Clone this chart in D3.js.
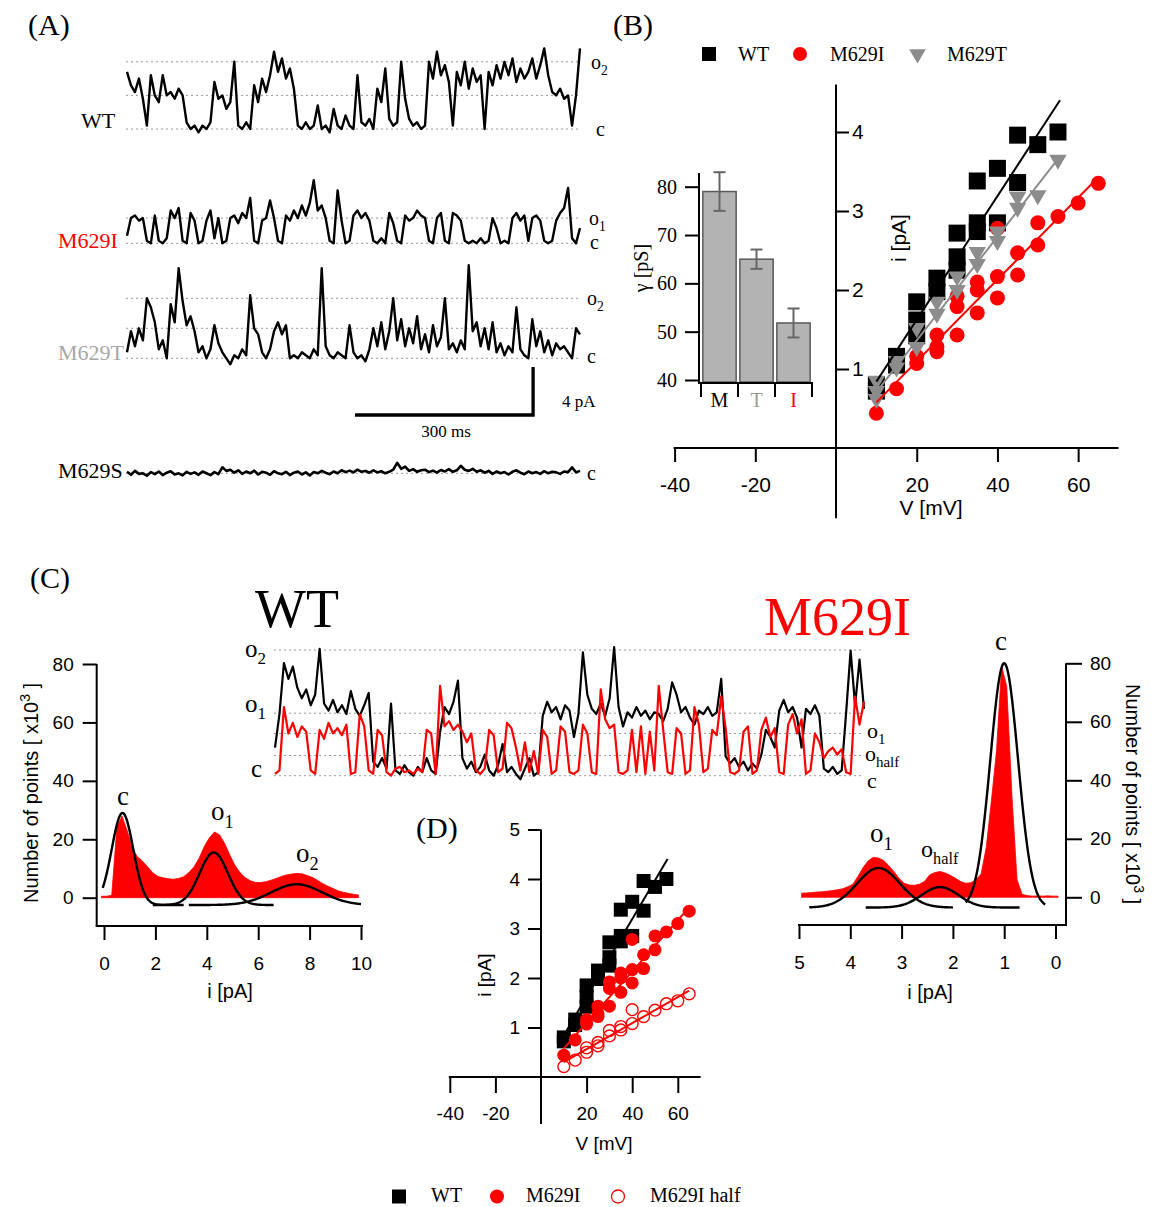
<!DOCTYPE html>
<html><head><meta charset="utf-8">
<script src="https://cdn.jsdelivr.net/npm/d3@7"></script>
<style>body{margin:0;background:#fff}svg{display:block}</style>
</head><body>
<svg id="fig" width="1153" height="1207"></svg>
<script>
// ===================== DATA =====================
// Panel A: single-channel traces, in units of the unitary open level
const A_NAMES = ["WT", "M629I", "M629T", "M629S"];
const A_UNIT_PA = [2.8, 2.1, 2.5, 2.5];      // pA per open level
const A_DURATION_MS = 763;
const A_SCALEBAR_MS = 300, A_SCALEBAR_PA = 4;
const A_DOTTED = [[0, 1, 2], [0, 1], [0, 1, 2], [0]];
const traceWT = [1.7,1.3,1.1,1.5,0.9,0.1,1.6,1.0,0.8,1.6,1.0,1.1,0.9,1.2,1.0,0.2,0.0,0.1,-0.1,0.1,0.0,0.2,1.4,0.9,1.0,0.6,0.8,2.0,0.1,0.0,0.2,0.0,1.3,0.8,1.5,1.1,1.6,2.3,1.7,2.1,1.5,1.8,1.2,0.1,0.0,0.2,0.0,0.1,0.7,0.0,0.1,-0.1,0.6,0.1,0.0,0.4,0.1,0.0,1.6,0.2,0.1,0.3,0.0,1.2,0.8,1.8,0.3,0.1,0.2,2.0,0.9,0.3,0.1,0.2,0.0,0.1,2.0,1.5,2.3,1.6,1.9,1.4,0.1,1.7,1.3,2.0,1.2,1.8,1.4,1.6,0.0,1.7,1.3,1.9,1.5,2.0,1.6,2.1,1.4,1.8,1.5,1.7,2.1,1.5,1.9,2.4,1.6,1.1,1.0,1.2,0.9,1.0,0.1,1.0,2.4];
const traceM629I = [0.3,1.0,1.1,0.9,1.0,0.1,0.0,1.1,0.1,0.0,0.2,1.3,1.0,1.4,0.1,0.0,1.2,0.9,0.0,0.1,0.9,1.3,0.2,1.0,0.0,0.1,1.0,1.1,0.8,1.2,1.0,1.8,0.1,0.0,0.9,1.0,1.7,1.0,0.1,0.0,1.1,0.9,1.3,1.0,1.5,1.1,1.6,2.5,1.3,1.5,1.0,0.1,0.0,2.1,0.9,0.0,0.1,1.1,1.3,1.0,1.2,0.9,0.1,0.0,0.2,0.0,1.2,0.8,0.1,0.0,1.1,0.9,1.0,1.3,1.1,1.0,0.1,0.0,1.0,1.2,0.1,0.0,1.2,1.1,0.9,0.1,0.0,0.1,0.0,0.2,0.0,0.1,1.0,0.6,0.0,0.1,0.0,1.0,1.2,0.9,1.1,0.1,1.0,1.1,0.9,0.1,0.0,0.1,0.9,1.2,1.4,2.2,0.2,0.0,0.6];
const traceM629T = [0.2,0.9,0.4,1.0,0.6,2.0,1.7,1.2,0.3,0.6,0.0,1.8,1.2,3.0,1.9,1.1,1.4,0.9,0.2,0.4,0.0,0.3,1.1,0.5,0.2,0.0,-0.2,0.1,0.0,0.3,0.1,2.1,1.0,0.8,0.2,0.0,0.3,0.9,1.2,0.8,1.1,0.0,0.1,0.0,0.2,0.1,0.0,0.3,0.1,3.0,0.4,0.1,0.0,0.2,0.1,0.0,1.1,0.2,0.0,0.1,-0.1,0.3,1.0,0.4,1.2,0.3,0.9,2.0,0.6,1.3,0.4,1.0,0.5,1.4,0.3,0.8,0.2,1.1,0.4,0.7,2.0,0.3,0.5,0.2,0.6,0.3,3.1,0.9,1.2,0.4,1.0,0.3,1.2,0.2,0.5,0.1,0.4,0.2,1.7,0.3,0.1,0.0,1.3,0.4,0.9,0.2,0.6,0.1,0.5,0.3,0.4,0.2,0.0,1.0,0.8];
const traceM629S = [0.05,-0.05,0.08,-0.02,0.0,-0.08,0.04,-0.03,0.06,-0.06,0.02,0.07,-0.04,0.0,-0.07,0.05,-0.02,0.03,-0.05,0.06,0.0,-0.06,0.04,-0.03,0.2,0.08,0.12,0.02,0.1,-0.02,0.06,0.0,0.09,-0.04,0.05,0.02,-0.05,0.07,0.0,-0.03,0.05,-0.06,0.02,0.06,-0.04,0.03,-0.07,0.04,0.0,0.08,0.02,-0.03,0.06,0.0,0.1,0.04,0.09,0.03,0.12,0.05,0.08,0.02,0.1,0.03,0.07,0.0,0.05,0.12,0.35,0.15,0.22,0.08,0.14,0.05,0.1,0.12,0.04,0.09,0.02,0.11,0.06,0.14,0.05,0.1,0.25,0.12,0.08,0.15,0.05,0.1,0.02,0.08,-0.02,0.06,0.0,0.04,-0.04,0.05,0.1,0.02,-0.03,0.06,0.0,0.04,-0.02,0.07,0.0,0.05,0.03,-0.02,0.06,0.04,0.2,0.03,0.08];

// Panel B: conductance bars
const barCats = ["M", "T", "I"];
const barMeans = [79.0, 65.0, 51.8];
const barErr = [4.0, 2.0, 3.0];
const barYTicks = [40, 50, 60, 70, 80];

// Panel B / D: IV data
const ivWT_V = [10,10,15,15,20,20,20,25,25,30,30,30,35,35,35,40,40,45,45,50,55];
const ivWT_I = [0.80,0.72,1.16,1.05,1.85,1.62,1.42,2.15,1.98,2.72,2.42,2.25,3.38,2.85,2.74,3.54,2.85,3.96,3.36,3.84,4.0];
const ivT_V = [10,10,10,15,15,20,20,25,25,30,30,35,35,40,40,45,45,50,55];
const ivT_I = [0.85,0.72,0.62,1.10,1.02,1.52,1.28,1.85,1.70,2.17,2.00,2.48,2.33,2.74,2.62,3.18,3.04,3.20,3.65];
const ivI_V = [10,15,20,20,25,25,25,30,30,30,35,35,35,40,40,40,45,45,50,50,55,60,65];
const ivI_I = [0.44,0.75,1.07,1.16,1.43,1.28,1.22,1.92,1.79,1.43,2.10,2.00,1.71,2.78,2.17,1.90,2.47,2.19,2.85,2.57,2.93,3.10,3.35];
const ivHalf_V = [10,15,20,20,25,25,30,30,35,35,40,40,45,50,55,60,65];
const ivHalf_I = [0.21,0.34,0.59,0.50,0.70,0.63,0.94,0.83,1.02,0.95,1.36,1.08,1.22,1.35,1.48,1.54,1.68];
// linear fits: [slope pA/mV, intercept pA, Vmin, Vmax]
const fitWT = [0.0783, 0.057, 10, 55.5];
const fitT = [0.0656, 0.05, 10, 55.5];
const fitI = [0.0518, 0.06, 10, 65];
const fitHalf = [0.0262, 0.04, 10, 65];
const ivXTicks = [-40, -20, 20, 40, 60];

// Panel C: overlay traces (pA above closed level)
const cLevelsWT = [0, 3.55, 7.14];
const cLevelsI = [1.15, 2.4];
const cTraceWT = [1.6,3.5,6.4,5.5,6.2,5.0,4.4,4.9,4.0,4.6,7.2,4.1,3.7,4.3,3.6,4.0,3.5,4.8,3.8,3.4,4.0,4.7,0.8,0.5,1.0,0.4,4.1,0.3,0.1,0.6,0.2,0.0,0.5,0.2,1.0,0.3,0.1,2.5,3.9,3.5,4.2,5.4,1.0,0.4,0.8,0.2,0.5,1.2,0.3,0.0,0.6,1.8,0.2,0.5,0.1,-0.2,0.4,1.0,0.0,0.2,3.4,4.2,3.6,3.9,3.2,4.0,3.7,2.2,3.5,7.0,4.6,3.8,3.5,4.1,3.4,4.4,7.3,3.9,2.8,3.6,3.3,3.9,3.4,3.7,3.2,3.6,3.5,3.1,3.8,5.3,4.6,3.6,3.9,3.3,2.9,3.7,3.5,3.9,3.4,3.6,5.5,1.1,0.7,1.0,0.5,0.8,0.3,0.7,0.4,1.2,2.6,2.2,1.6,3.7,4.3,3.6,3.9,3.3,1.6,3.8,3.5,4.0,3.4,0.4,0.2,0.5,0.1,0.3,3.6,7.1,4.0,6.6,3.8];
const cTraceI = [0.1,0.3,3.9,2.4,3.0,2.2,2.8,2.5,0.3,0.1,2.6,2.1,3.0,2.4,2.7,2.3,2.9,0.1,0.2,3.5,2.8,0.3,0.1,2.6,2.3,0.2,0.0,0.4,0.5,0.2,0.3,0.1,0.4,0.2,2.6,2.4,0.1,5.1,2.8,3.1,2.6,2.9,2.5,1.9,2.4,0.3,0.1,0.4,2.6,2.3,0.2,0.4,3.0,2.7,1.6,0.3,1.9,0.2,1.4,0.1,2.6,2.2,0.1,0.3,2.8,2.5,0.2,0.1,0.3,2.9,2.4,0.2,0.1,4.9,3.2,2.7,2.9,0.2,0.1,0.3,2.6,0.2,2.8,0.1,2.5,0.3,5.1,2.6,0.2,0.1,2.7,2.4,0.1,0.3,3.9,2.9,0.2,0.4,2.6,2.3,4.5,2.7,0.2,0.1,0.3,2.5,2.8,0.1,0.3,2.6,3.3,2.2,2.7,0.2,0.1,2.9,3.5,2.4,3.2,0.1,0.3,2.4,1.9,1.0,1.4,1.6,1.2,1.5,0.2,0.1,4.5,2.9,4.2];

// Panel C: amplitude histograms (x10^3 points)
const histL_first = -0.1, histL_bin = 0.2;
const histL_counts = [0.5,0.5,0.8,24,28,23,17,14,12.5,10.5,8.5,7.3,6.8,6.5,6.3,6.6,7.2,8.6,10.5,13.5,17.5,20.5,22.5,21.5,18.5,14.5,11.0,8.5,6.8,5.8,5.2,5.2,5.5,6.0,6.6,7.3,7.8,8.1,8.3,8.2,7.6,7.0,6.0,4.9,4.0,3.2,2.4,1.9,1.5,1.2,0.9];
const histR_first = -0.05, histR_bin = 0.1;
const histR_counts = [0.4,0.4,0.5,0.4,0.5,0.4,0.6,1.0,6,35,72,79,50,33,17,8,6,5,4.8,5.4,6.5,7.5,8.3,8.8,8.5,7.7,5.5,4.5,4.1,4.2,4.8,6.5,8.8,10.8,12.6,13.4,13.7,12.5,10.2,7.2,4.5,3.6,2.9,2.6,2.3,2.1,1.9,1.8,1.6,1.5,1.4];
// Gaussian fits: centre, sigma, amplitude, from, to
const gaussL = [[0.72, 0.42, 31.5, -0.05, 3.1], [4.27, 0.55, 18, 1.9, 6.6], [7.5, 1.0, 7.1, 3.3, 10.0]];
const gaussL_offset = -2.5;
const gaussR = [[1.0, 0.27, 83.5, 0.2, 1.75], [2.25, 0.36, 7.0, 0.7, 3.7], [3.45, 0.42, 13.5, 2.0, 4.8]];
const gaussR_offset = -3.5;
const histYTicks = [0, 20, 40, 60, 80];
const histLXTicks = [0, 2, 4, 6, 8, 10];
const histRXTicks = [5, 4, 3, 2, 1, 0];

// ===================== DRAWING =====================
const SERIF = "'Liberation Serif','Times New Roman',serif";
const SANS = "'Liberation Sans',Arial,sans-serif";
const RED = "#ff0000";
const svg = d3.select("#fig");
const plainFmt = d => String(d);

function txt(x, y, s, size, o = {}) {
  return svg.append("text").attr("x", x).attr("y", y).text(s)
    .attr("font-family", o.font || SERIF).attr("font-size", size)
    .attr("fill", o.fill || "#000").attr("text-anchor", o.anchor || "start");
}
function subLabel(x, y, base, sub, size, o = {}) {
  const t = svg.append("text").attr("x", x).attr("y", y)
    .attr("font-family", SERIF).attr("font-size", size).attr("fill", o.fill || "#000")
    .attr("text-anchor", o.anchor || "start");
  t.append("tspan").text(base);
  t.append("tspan").attr("dy", size * 0.28).attr("font-size", size * 0.68).text(sub);
  return t;
}
function hline(x1, x2, y, w = 2, c = "#000") {
  svg.append("line").attr("x1", x1).attr("x2", x2).attr("y1", y).attr("y2", y).attr("stroke", c).attr("stroke-width", w);
}
function vline(x, y1, y2, w = 2, c = "#000") {
  svg.append("line").attr("x1", x).attr("x2", x).attr("y1", y1).attr("y2", y2).attr("stroke", c).attr("stroke-width", w);
}
function dotted(x1, x2, y) {
  svg.append("line").attr("x1", x1).attr("x2", x2).attr("y1", y).attr("y2", y)
    .attr("stroke", "#9a9a9a").attr("stroke-width", 1).attr("stroke-dasharray", "2,3");
}
function styleAxis(g, size, font) {
  g.select(".domain").remove();
  g.attr("font-family", font).attr("font-size", size);
  g.selectAll(".tick line").attr("stroke", "#000").attr("stroke-width", 2);
  g.selectAll(".tick text").attr("fill", "#000");
}

// panel letters
txt(28, 35, "(A)", 30);
txt(613, 35, "(B)", 30);
txt(30, 588, "(C)", 30);
txt(416, 838, "(D)", 30);

// ---------- Panel A ----------
const aX = d3.scaleLinear().domain([0, A_DURATION_MS]).range([127, 580]);
const aBase = [129, 243.3, 358.3, 473.3];
const aPxPerPA = 12;
const aTraces = [traceWT, traceM629I, traceM629T, traceM629S];
aTraces.forEach((tr, k) => {
  const y = d3.scaleLinear().domain([0, 1]).range([aBase[k], aBase[k] - A_UNIT_PA[k] * aPxPerPA]);
  A_DOTTED[k].forEach(l => dotted(126, 580, y(l)));
  const n = tr.length;
  const line = d3.line().x((d, i) => aX(i * A_DURATION_MS / (n - 1))).y(d => y(d));
  svg.append("path").datum(tr).attr("d", line).attr("fill", "none")
    .attr("stroke", "#000").attr("stroke-width", k === 3 ? 2.6 : 2.4).attr("stroke-linejoin", "round");
});
const aNameColors = ["#000", RED, "#a8a8a8", "#000"];
const aNameX = [81, 58, 58, 58];
const aNameY = [128, 248, 360, 478];
A_NAMES.forEach((nm, k) => txt(aNameX[k], aNameY[k], nm, 22, { fill: aNameColors[k] }));
subLabel(591, 69, "o", "2", 20);
txt(596, 136, "c", 20);
subLabel(589, 225, "o", "1", 20);
txt(590, 249, "c", 20);
subLabel(587, 305, "o", "2", 20);
txt(587, 363, "c", 20);
txt(587, 480, "c", 20);
// scale bar
{
  const t1 = 684, t0 = t1 - A_SCALEBAR_MS;
  const yb = 415;
  svg.append("path")
    .attr("d", `M${aX(t0)},${yb}H${aX(t1)}V${yb - A_SCALEBAR_PA * aPxPerPA}`)
    .attr("fill", "none").attr("stroke", "#000").attr("stroke-width", 3.3).attr("stroke-linejoin", "miter");
  txt(562, 407, A_SCALEBAR_PA + " pA", 17);
  txt((aX(t0) + aX(t1)) / 2 + 2, 437, A_SCALEBAR_MS + " ms", 17, { anchor: "middle" });
}

// ---------- Panel B legend ----------
svg.append("rect").attr("x", 702).attr("y", 47).attr("width", 14).attr("height", 14).attr("fill", "#000");
txt(738, 61, "WT", 20);
svg.append("circle").attr("cx", 800).attr("cy", 54).attr("r", 7).attr("fill", RED);
txt(830, 61, "M629I", 20);
svg.append("path").attr("d", d3.symbol(d3.symbolTriangle, 120)()).attr("transform", "translate(917.5,54) rotate(180)").attr("fill", "#8c8c8c");
txt(947, 61, "M629T", 20);

// ---------- Panel B bar chart ----------
{
  const yb = d3.scaleLinear().domain([40, 80]).range([380, 186.7]);
  const xb = d3.scaleBand().domain(barCats).range([701, 812]).paddingInner(0.1).paddingOuter(0.05);
  svg.selectAll("rect.bar").data(barCats).enter().append("rect").attr("class", "bar")
    .attr("x", d => xb(d)).attr("width", xb.bandwidth())
    .attr("y", (d, i) => yb(barMeans[i])).attr("height", (d, i) => yb(40) + 2 - yb(barMeans[i]))
    .attr("fill", "#b3b3b3").attr("stroke", "#5a5a5a").attr("stroke-width", 1.5);
  barCats.forEach((c, i) => {
    const cx = xb(c) + xb.bandwidth() / 2;
    vline(cx, yb(barMeans[i] + barErr[i]), yb(barMeans[i] - barErr[i]), 2, "#666");
    hline(cx - 6, cx + 6, yb(barMeans[i] + barErr[i]), 2, "#666");
    hline(cx - 6, cx + 6, yb(barMeans[i] - barErr[i]), 2, "#666");
  });
  const gy = svg.append("g").attr("transform", "translate(699,0)")
    .call(d3.axisLeft(yb).tickValues(barYTicks).tickSize(14).tickPadding(8));
  styleAxis(gy, 20, SERIF);
  vline(699, 173, 384);
  hline(698, 813, 383);
  const step = (812 - 701) / barCats.length;
  for (let k = 0; k <= barCats.length; k++) vline(701 + k * step, 383, 397);
  const catColors = ["#000", "#999", RED];
  barCats.forEach((c, i) => txt(xb(c) + xb.bandwidth() / 2, 407, c, 20, { anchor: "middle", fill: catColors[i] }));
  svg.append("text").attr("transform", "translate(648,268) rotate(-90)").attr("text-anchor", "middle")
    .attr("font-family", SERIF).attr("font-size", 20).text("γ [pS]");
}

// ---------- IV helper ----------
function ivPanel(cfg) {
  const x = d3.scaleLinear().domain([-40, 70]).range(cfg.xr);
  const y = d3.scaleLinear().domain([0, 1]).range([cfg.y0, cfg.y0 - cfg.ppa]);
  vline(x(0), y(cfg.ymax), y(cfg.ymin));
  hline(x(-40) - 1, x(70), y(0));
  const gx = svg.append("g").attr("transform", `translate(0,${y(0)})`)
    .call(d3.axisBottom(x).tickValues(ivXTicks).tickSize(cfg.xtick).tickPadding(cfg.xpad).tickFormat(plainFmt));
  styleAxis(gx, cfg.fs, SANS);
  const yAxis = cfg.yRight ? d3.axisRight(y) : d3.axisLeft(y);
  const gy = svg.append("g").attr("transform", `translate(${x(0)},0)`)
    .call(yAxis.tickValues(cfg.yticks).tickSize(13).tickPadding(cfg.ypad).tickFormat(plainFmt));
  styleAxis(gy, cfg.fs, SANS);
  svg.append("text").attr("x", cfg.vlab[0]).attr("y", cfg.vlab[1]).attr("text-anchor", "middle")
    .attr("font-family", SANS).attr("font-size", cfg.fs).text("V [mV]");
  svg.append("text").attr("transform", `translate(${cfg.ilab[0]},${cfg.ilab[1]}) rotate(-90)`).attr("text-anchor", "middle")
    .attr("font-family", SANS).attr("font-size", cfg.fs).text("i [pA]");
  return { x, y };
}
function fitLine(s, fit, color) {
  const pts = [[fit[2], fit[0] * fit[2] + fit[1]], [fit[3], fit[0] * fit[3] + fit[1]]];
  svg.append("path").datum(pts).attr("d", d3.line().x(d => s.x(d[0])).y(d => s.y(d[1])))
    .attr("stroke", color).attr("stroke-width", 2).attr("fill", "none");
}
function markers(s, V, I, sym, size, fill, stroke, rot) {
  const p = d3.symbol(sym, size)();
  V.forEach((v, k) => {
    svg.append("path").attr("d", p)
      .attr("transform", `translate(${s.x(v)},${s.y(I[k])})${rot ? " rotate(180)" : ""}`)
      .attr("fill", fill).attr("stroke", stroke || "none").attr("stroke-width", stroke ? 1.4 : 0);
  });
}

// ---------- Panel B IV ----------
{
  const s = ivPanel({ xr: [674.6, 1118.5], y0: 448, ppa: 79, ymax: 4.6, ymin: -0.89, yticks: [1, 2, 3, 4],
    yRight: true, xtick: 14, xpad: 15, ypad: 3, fs: 21, vlab: [931, 515], ilab: [906, 238] });
  markers(s, ivWT_V, ivWT_I, d3.symbolSquare, 289, "#000");
  markers(s, ivI_V, ivI_I, d3.symbolCircle, 177, RED);
  markers(s, ivT_V, ivT_I, d3.symbolTriangle, 130, "#8c8c8c", null, true);
  fitLine(s, fitWT, "#000");
  fitLine(s, fitT, "#8c8c8c");
  fitLine(s, fitI, RED);
}

// ---------- Panel D IV ----------
{
  const s = ivPanel({ xr: [449.8, 700.6], y0: 1077, ppa: 49.5, ymax: 5, ymin: -0.95, yticks: [1, 2, 3, 4, 5],
    yRight: false, xtick: 16, xpad: 14, ypad: 8, fs: 19, vlab: [604, 1150], ilab: [491, 975] });
  markers(s, ivWT_V, ivWT_I, d3.symbolSquare, 196, "#000");
  markers(s, ivI_V, ivI_I, d3.symbolCircle, 133, RED);
  markers(s, ivHalf_V, ivHalf_I, d3.symbolCircle, 110, "none", RED);
  fitLine(s, fitWT, "#000");
  fitLine(s, fitI, RED);
  fitLine(s, fitHalf, RED);
}
// D legend
svg.append("rect").attr("x", 392).attr("y", 1189.5).attr("width", 14).attr("height", 14).attr("fill", "#000");
txt(431, 1202, "WT", 20);
svg.append("circle").attr("cx", 497).attr("cy", 1196.5).attr("r", 7).attr("fill", RED);
txt(526, 1202, "M629I", 20);
svg.append("circle").attr("cx", 618).attr("cy", 1196.5).attr("r", 6.5).attr("fill", "none").attr("stroke", RED).attr("stroke-width", 1.3);
txt(650, 1202, "M629I half", 20);

// ---------- Panel C overlay ----------
txt(255, 627, "WT", 54);
txt(764, 635, "M629I", 54, { fill: RED });
{
  const yC = d3.scaleLinear().domain([0, 7.14]).range([775.7, 650]);
  cLevelsWT.concat(cLevelsI).forEach(l => dotted(274, 864, yC(l)));
  const xW = d3.scaleLinear().domain([0, cTraceWT.length - 1]).range([275, 864]);
  const xI = d3.scaleLinear().domain([0, cTraceI.length - 1]).range([275, 864]);
  svg.append("path").datum(cTraceWT).attr("d", d3.line().x((d, i) => xW(i)).y(d => yC(d)))
    .attr("fill", "none").attr("stroke", "#000").attr("stroke-width", 2.2).attr("stroke-linejoin", "round");
  svg.append("path").datum(cTraceI).attr("d", d3.line().x((d, i) => xI(i)).y(d => yC(d)))
    .attr("fill", "none").attr("stroke", RED).attr("stroke-width", 2.2).attr("stroke-linejoin", "round");
  subLabel(245, 657, "o", "2", 25);
  subLabel(245, 712, "o", "1", 25);
  txt(251, 777, "c", 25);
  subLabel(867, 738, "o", "1", 22);
  subLabel(865, 761, "o", "half", 22);
  txt(867, 788, "c", 22);
}

// ---------- Histograms ----------
function gaussPts(g, off) {
  return d3.range(0, 161).map(k => {
    const i = g[3] + (g[4] - g[3]) * k / 160;
    return [i, off + g[2] * Math.exp(-((i - g[0]) ** 2) / (2 * g[1] * g[1]))];
  });
}
function histPanel(cfg) {
  const x = d3.scaleLinear().domain(cfg.xd).range(cfg.xr);
  const y = d3.scaleLinear().domain([0, 80]).range([cfg.y0, cfg.y80]);
  const data = cfg.counts.map((c, k) => [cfg.first + k * cfg.bin, c]);
  svg.append("path").datum(data)
    .attr("d", d3.area().x(d => x(d[0])).y0(y(0)).y1(d => y(d[1])))
    .attr("fill", RED).attr("stroke", RED).attr("stroke-width", 0.8);
  cfg.gauss.forEach(g => {
    svg.append("path").datum(gaussPts(g, cfg.off))
      .attr("d", d3.line().x(d => x(d[0])).y(d => y(d[1])))
      .attr("fill", "none").attr("stroke", "#000").attr("stroke-width", 2.4);
  });
  vline(cfg.ax, cfg.y80, cfg.axisY);
  hline(Math.min(cfg.ax, cfg.xend) - 1, Math.max(cfg.ax, cfg.xend) + 1, cfg.axisY);
  const gx = svg.append("g").attr("transform", `translate(0,${cfg.axisY})`)
    .call(d3.axisBottom(x).tickValues(cfg.xticks).tickSize(14).tickPadding(17).tickFormat(plainFmt));
  styleAxis(gx, 19, SANS);
  const ya = cfg.right ? d3.axisRight(y) : d3.axisLeft(y);
  const gy = svg.append("g").attr("transform", `translate(${cfg.ax},0)`)
    .call(ya.tickValues(histYTicks).tickSize(cfg.right ? 16 : 14).tickPadding(cfg.right ? 8 : 9).tickFormat(plainFmt));
  styleAxis(gy, 19, SANS);
  svg.append("text").attr("x", cfg.ilab[0]).attr("y", cfg.ilab[1]).attr("text-anchor", "middle")
    .attr("font-family", SANS).attr("font-size", 20).text("i [pA]");
  const t = svg.append("text").attr("transform", `translate(${cfg.nlab[0]},${cfg.nlab[1]}) rotate(${cfg.right ? 90 : -90})`)
    .attr("text-anchor", "middle").attr("font-family", SANS).attr("font-size", 20);
  t.append("tspan").text("Number of points [ x10");
  t.append("tspan").attr("dy", -8).attr("font-size", 14).text("3");
  t.append("tspan").attr("dy", 8).text(" ]");
}
histPanel({ xd: [0, 10], xr: [104, 361], y0: 897.7, y80: 664, first: histL_first, bin: histL_bin, counts: histL_counts,
  gauss: gaussL, off: gaussL_offset, ax: 96.7, axisY: 926, xend: 362, xticks: histLXTicks, right: false,
  ilab: [230, 998], nlab: [38, 793] });
histPanel({ xd: [5, 0], xr: [799, 1055.5], y0: 897.3, y80: 663.3, first: histR_first, bin: histR_bin, counts: histR_counts,
  gauss: gaussR, off: gaussR_offset, ax: 1066, axisY: 925, xend: 799, xticks: histRXTicks, right: true,
  ilab: [930, 999], nlab: [1126, 794] });
txt(123, 805, "c", 27, { anchor: "middle" });
subLabel(211, 820, "o", "1", 27);
subLabel(296, 862, "o", "2", 27);
txt(1001, 650, "c", 27, { anchor: "middle" });
subLabel(870, 842, "o", "1", 27);
subLabel(921, 857, "o", "half", 24);
</script>
</body></html>
